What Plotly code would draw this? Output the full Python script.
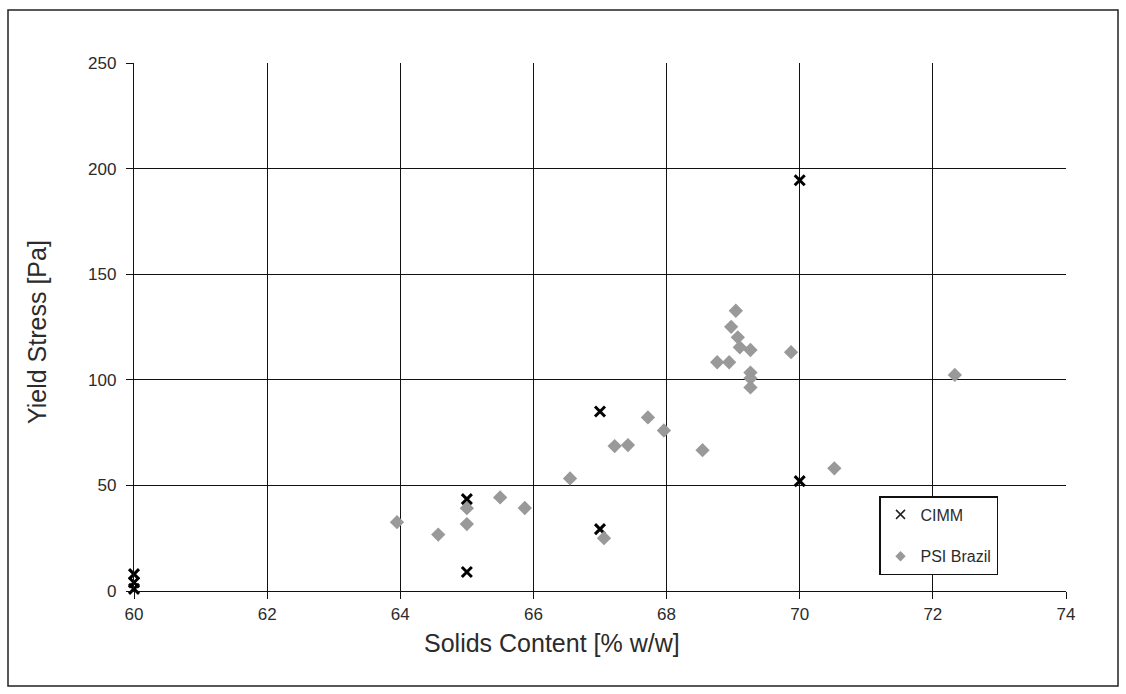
import plotly.graph_objects as go

cimm_x = [60, 60, 60, 65, 65, 67, 67, 70, 70]
cimm_y = [8, 4, 1, 43.5, 9, 29.3, 85, 194.5, 52]

psi_x = [63.95, 64.57, 65.0, 65.0, 65.5, 65.87, 66.55, 67.06, 67.22, 67.42, 67.72, 67.96,
         68.54, 68.76, 68.94, 68.97, 69.04, 69.07, 69.1, 69.26, 69.26, 69.26, 69.26,
         69.87, 70.52, 72.33]
psi_y = [32.6, 26.7, 31.7, 39.2, 44.3, 39.3, 53.3, 25.0, 68.6, 69.1, 82.2, 76.0,
         66.7, 108.3, 108.3, 125.1, 132.7, 120.1, 115.4, 114.1, 103.4, 100.7, 96.4,
         113.1, 58.1, 102.3]

x_ticks = [60, 62, 64, 66, 68, 70, 72, 74]
y_ticks = [0, 50, 100, 150, 200, 250]

FONT = "Liberation Sans, Arial, sans-serif"
TXT = "#2b2b2b"

fig = go.Figure()
# data traces
fig.add_trace(go.Scatter(
    x=cimm_x, y=cimm_y, mode="markers", name="CIMM", showlegend=False,
    cliponaxis=False,
    marker=dict(symbol="x-thin", size=10, color="black",
                line=dict(color="black", width=3)),
))
fig.add_trace(go.Scatter(
    x=psi_x, y=psi_y, mode="markers", name="PSI Brazil", showlegend=False,
    cliponaxis=False,
    marker=dict(symbol="diamond", size=11, color="#999999"),
))
# legend entries (smaller legend symbols, as in the reference)
fig.add_trace(go.Scatter(
    x=[None], y=[None], mode="markers", name="CIMM", legendgroup="a",
    marker=dict(symbol="x-thin", size=9, color="black",
                line=dict(color="#222222", width=1.5)),
))
fig.add_trace(go.Scatter(
    x=[None], y=[None], mode="markers", name="PSI Brazil", legendgroup="b",
    marker=dict(symbol="diamond", size=8, color="#999999"),
))

axis_common = dict(
    showgrid=True, gridcolor="#111111", gridwidth=1.4,
    showline=True, linecolor="#111111", linewidth=1.4, mirror=False,
    ticks="outside", ticklen=7, tickcolor="#111111", tickwidth=1.4,
    tickfont=dict(family=FONT, size=17, color=TXT),
    zeroline=False,
)

fig.update_xaxes(range=[60, 74], tickvals=x_ticks, **axis_common)
fig.update_yaxes(range=[0, 250], tickvals=y_ticks, ticklabelstandoff=6, **axis_common)

fig.update_layout(
    width=1126, height=694,
    margin=dict(l=134, r=60, t=63, b=103),
    plot_bgcolor="white", paper_bgcolor="white",
    showlegend=True,
    legend=dict(x=(879 - 134) / 932, y=(591 - 496) / 528, xanchor="left", yanchor="top",
                bordercolor="#111111", borderwidth=1.5, bgcolor="white",
                font=dict(family=FONT, size=16, color=TXT),
                itemwidth=30, tracegroupgap=18),
    annotations=[
        dict(text="Solids Content [% w/w]", xref="paper", yref="paper",
             x=(552 - 134) / 932, y=-(643 - 591) / 528, xanchor="center", yanchor="middle",
             showarrow=False, font=dict(family=FONT, size=25, color=TXT)),
        dict(text="Yield Stress [Pa]", xref="paper", yref="paper",
             x=-(134 - 37) / 932, y=(591 - 332) / 528, xanchor="center", yanchor="middle",
             textangle=-90, showarrow=False, font=dict(family=FONT, size=25, color=TXT)),
    ],
    shapes=[dict(type="rect", xref="paper", yref="paper",
                 x0=-126 / 932, x1=1 + 52 / 932, y0=-95 / 528, y1=1 + 53 / 528,
                 line=dict(color="#222222", width=1.5), fillcolor="rgba(0,0,0,0)",
                 layer="below")],
)

fig.write_html("out.html")
